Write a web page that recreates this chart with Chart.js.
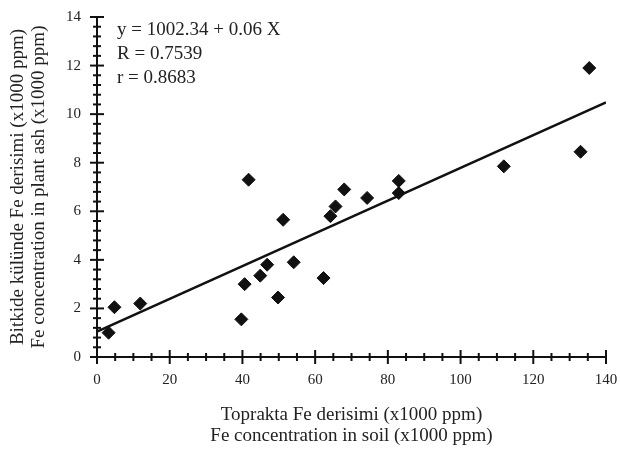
<!DOCTYPE html>
<html>
<head>
<meta charset="utf-8">
<script src="https://cdn.jsdelivr.net/npm/chart.js@4.4.0/dist/chart.umd.min.js"></script>
<style>
  body { margin: 0; background: #fff; }
  #wrap { width: 620px; height: 450px; }
</style>
</head>
<body>
<div id="wrap"><canvas id="Chart" width="620" height="450"></canvas></div>
<script>
// soil Fe (x1000 ppm) vs plant ash Fe (x1000 ppm)
const soilFe = [3.2, 4.8, 11.9, 39.7, 40.6, 41.7, 44.9, 46.8, 49.8, 51.2, 54.1, 62.3, 64.2, 65.6, 68.0, 74.3, 83.0, 83.0, 111.9, 133.0, 135.4];
const plantFe = [1.0, 2.05, 2.2, 1.55, 3.0, 7.3, 3.35, 3.8, 2.45, 5.65, 3.9, 3.25, 5.8, 6.2, 6.9, 6.55, 7.25, 6.75, 7.85, 8.45, 11.9];
// fitted line end points
const fitX = [0, 140];
const fitY = [1.05, 10.48];
const xTicks = [0, 20, 40, 60, 80, 100, 120, 140];
const yTicks = [0, 2, 4, 6, 8, 10, 12, 14];
const statLines = ['y = 1002.34 + 0.06 X', 'R = 0.7539', 'r = 0.8683'];

const serif = "'Liberation Serif', 'DejaVu Serif', serif";
const ink = '#111';

const scatterPts = soilFe.map((x, i) => ({ x: x, y: plantFe[i] }));
const fitPts = fitX.map((x, i) => ({ x: x, y: fitY[i] }));

// ticks that cross the axes + stats text
const axisTicks = {
  id: 'axisTicks',
  afterDraw(chart) {
    const c = chart.ctx;
    const xs = chart.scales.x, ys = chart.scales.y;
    const x0 = xs.getPixelForValue(0), y0 = ys.getPixelForValue(0);
    c.save();
    c.strokeStyle = ink;
    c.lineWidth = 2;
    for (let v = 0; v <= 140.001; v += 5) {
      const p = xs.getPixelForValue(v);
      const major = Math.abs(v % 20) < 0.01;
      const len = major ? 7 : 4;
      c.beginPath(); c.moveTo(p, y0 - len); c.lineTo(p, y0 + len); c.stroke();
    }
    for (let k = 0; k <= 35; k++) {
      const v = k * 0.4;
      const p = ys.getPixelForValue(v);
      const major = k % 5 === 0;
      const len = major ? 7 : 4;
      c.beginPath(); c.moveTo(x0 - len, p); c.lineTo(x0 + len, p); c.stroke();
    }
    c.fillStyle = '#222';
    c.font = '19px ' + serif;
    c.textBaseline = 'middle';
    c.textAlign = 'left';
    statLines.forEach((t, i) => c.fillText(t, chart.chartArea.left + 20, chart.chartArea.top + 13 + i * 24));
    c.restore();
  }
};

const myChart = new Chart(document.getElementById('Chart').getContext('2d'), {
  type: 'scatter',
  data: {
    datasets: [{
      label: 'data',
      data: scatterPts,
      pointStyle: 'rectRot',
      pointRadius: 6.5,
      backgroundColor: ink,
      borderColor: ink,
      borderWidth: 1
    }, {
      type: 'line',
      label: 'fit',
      data: fitPts,
      borderColor: ink,
      borderWidth: 2.5,
      pointRadius: 0,
      fill: false
    }]
  },
  options: {
    responsive: false,
    animation: false,
    layout: { padding: { top: 15, right: 14, left: 4, bottom: 0 } },
    plugins: { legend: { display: false }, tooltip: { enabled: false } },
    scales: {
      x: {
        type: 'linear',
        min: 0, max: 140,
        afterBuildTicks: s => { s.ticks = xTicks.map(v => ({ value: v })); },
        afterFit: s => { s.height = 93; s.paddingRight = 0; s.paddingLeft = 0; },
        grid: { display: false },
        border: { display: true, color: ink, width: 2 },
        ticks: { color: '#222', padding: 6, font: { family: serif, size: 15 } },
        title: {
          display: true,
          text: ['Toprakta Fe derisimi (x1000 ppm)', 'Fe concentration in soil (x1000 ppm)'],
          color: '#222',
          font: { family: serif, size: 19, lineHeight: 1.1 },
          padding: { top: 22 }
        }
      },
      y: {
        type: 'linear',
        min: 0, max: 14,
        afterBuildTicks: s => { s.ticks = yTicks.map(v => ({ value: v })); },
        afterFit: s => { s.width = 93; },
        grid: { display: false },
        border: { display: true, color: ink, width: 2 },
        ticks: { color: '#222', padding: 8, font: { family: serif, size: 15 } },
        title: {
          display: true,
          text: ['Bitkide külünde Fe derisimi (x1000 ppm)', 'Fe concentration in plant ash (x1000 ppm)'],
          color: '#222',
          font: { family: serif, size: 19, lineHeight: 1.1 },
          padding: { bottom: 4 }
        }
      }
    }
  },
  plugins: [axisTicks]
});
</script>
</body>
</html>
